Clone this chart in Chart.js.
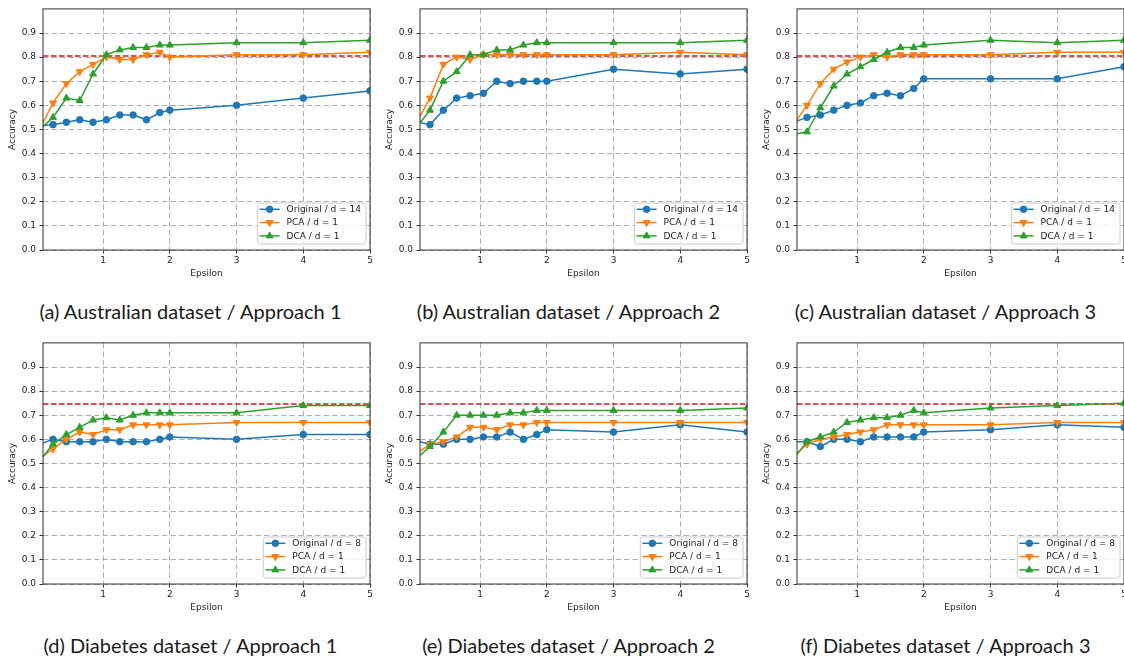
<!DOCTYPE html>
<html>
<head>
<meta charset="utf-8">
<script src="https://cdn.jsdelivr.net/npm/chart.js@4.4.1/dist/chart.umd.min.js"></script>
<style>
  html, body { margin: 0; padding: 0; background: #fff; overflow: hidden; width: 1124px; height: 662px; }
  .panel { position: absolute; width: 375px; height: 285px; }
  .caption { position: absolute; width: 375px; text-align: center; font-family: Lato, 'Noto Sans', sans-serif; font-size: 20px; line-height: 22px; color: #1a1a1a; white-space: nowrap; }
</style>
</head>
<body>
<div class="panel" style="left:0;top:0"><canvas id="chartA"></canvas></div>
<div class="panel" style="left:377px;top:0"><canvas id="chartB"></canvas></div>
<div class="panel" style="left:754px;top:0"><canvas id="chartC"></canvas></div>
<div class="panel" style="left:0;top:334px"><canvas id="chartD"></canvas></div>
<div class="panel" style="left:377px;top:334px"><canvas id="chartE"></canvas></div>
<div class="panel" style="left:754px;top:334px"><canvas id="chartF"></canvas></div>

<div class="caption" style="left:3px;top:300px">(a) Australian dataset / Approach 1</div>
<div class="caption" style="left:381px;top:300px">(b) Australian dataset / Approach 2</div>
<div class="caption" style="left:758px;top:300px">(c) Australian dataset / Approach 3</div>
<div class="caption" style="left:3px;top:634px">(d) Diabetes dataset / Approach 1</div>
<div class="caption" style="left:381px;top:634px">(e) Diabetes dataset / Approach 2</div>
<div class="caption" style="left:758px;top:634px">(f) Diabetes dataset / Approach 3</div>

<script>
// Epsilon values (first one sits just left of the visible x range)
const epsilon = [0.05, 0.25, 0.45, 0.65, 0.85, 1.05, 1.25, 1.45, 1.65, 1.85, 2, 3, 4, 5];
const xTicks = [1, 2, 3, 4, 5];
const yTicks = [0, 0.1, 0.2, 0.3, 0.4, 0.5, 0.6, 0.7, 0.8, 0.9];

// Australian dataset
const ausOriginal1 = [0.515, 0.52, 0.53, 0.54, 0.53, 0.54, 0.56, 0.56, 0.54, 0.57, 0.58, 0.60, 0.63, 0.66];
const ausPca1 = [0.50, 0.61, 0.69, 0.74, 0.77, 0.80, 0.79, 0.79, 0.81, 0.82, 0.80, 0.81, 0.81, 0.82];
const ausDca1 = [0.50, 0.55, 0.63, 0.62, 0.73, 0.81, 0.83, 0.84, 0.84, 0.85, 0.85, 0.86, 0.86, 0.87];

const ausOriginal2 = [0.53, 0.52, 0.58, 0.63, 0.64, 0.65, 0.70, 0.69, 0.70, 0.70, 0.70, 0.75, 0.73, 0.75];
const ausPca2 = [0.53, 0.63, 0.77, 0.80, 0.79, 0.81, 0.81, 0.81, 0.81, 0.81, 0.81, 0.81, 0.82, 0.81];
const ausDca2 = [0.51, 0.58, 0.70, 0.74, 0.81, 0.81, 0.83, 0.83, 0.85, 0.86, 0.86, 0.86, 0.86, 0.87];

const ausOriginal3 = [0.53, 0.55, 0.56, 0.58, 0.60, 0.61, 0.64, 0.65, 0.64, 0.67, 0.71, 0.71, 0.71, 0.76];
const ausPca3 = [0.52, 0.60, 0.69, 0.75, 0.78, 0.80, 0.81, 0.80, 0.81, 0.81, 0.81, 0.81, 0.82, 0.82];
const ausDca3 = [0.48, 0.49, 0.59, 0.68, 0.73, 0.76, 0.79, 0.82, 0.84, 0.84, 0.85, 0.87, 0.86, 0.87];

// Diabetes dataset
const diaOriginal1 = [0.58, 0.60, 0.59, 0.59, 0.59, 0.60, 0.59, 0.59, 0.59, 0.60, 0.61, 0.60, 0.62, 0.62];
const diaPca1 = [0.52, 0.56, 0.60, 0.63, 0.62, 0.64, 0.64, 0.66, 0.66, 0.66, 0.66, 0.67, 0.67, 0.67];
const diaDca1 = [0.51, 0.58, 0.62, 0.65, 0.68, 0.69, 0.68, 0.70, 0.71, 0.71, 0.71, 0.71, 0.74, 0.74];

const diaOriginal2 = [0.593, 0.58, 0.58, 0.60, 0.60, 0.61, 0.61, 0.63, 0.60, 0.62, 0.64, 0.63, 0.66, 0.63];
const diaPca2 = [0.54, 0.58, 0.59, 0.61, 0.65, 0.65, 0.64, 0.66, 0.66, 0.67, 0.67, 0.67, 0.67, 0.67];
const diaDca2 = [0.52, 0.57, 0.63, 0.70, 0.70, 0.70, 0.70, 0.71, 0.71, 0.72, 0.72, 0.72, 0.72, 0.73];

const diaOriginal3 = [0.59, 0.59, 0.57, 0.60, 0.60, 0.59, 0.61, 0.61, 0.61, 0.61, 0.63, 0.64, 0.66, 0.65];
const diaPca3 = [0.53, 0.58, 0.60, 0.61, 0.62, 0.63, 0.64, 0.66, 0.66, 0.66, 0.66, 0.66, 0.67, 0.67];
const diaDca3 = [0.52, 0.59, 0.61, 0.63, 0.67, 0.68, 0.69, 0.69, 0.70, 0.72, 0.71, 0.73, 0.74, 0.75];

// red dashed reference lines
const ausBaseline = 0.805;
const diaBaseline = 0.747;

const BLUE = '#1f77b4';
const ORANGE = '#ff7f0e';
const GREEN = '#2ca02c';
const FONT = { family: "'DejaVu Sans', sans-serif", size: 9 };

// frame (all four spines) + matplotlib style legend in the lower right
const framePlugin = {
  id: 'frameAndLegend',
  afterDatasetsDraw(chart) {
    const { ctx, chartArea: a } = chart;
    ctx.save();
    ctx.strokeStyle = '#333';
    ctx.lineWidth = 1;
    ctx.strokeRect(a.left, a.top, a.right - a.left, a.bottom - a.top);

    const items = chart.data.datasets.filter(d => d.label);
    ctx.font = '9px "DejaVu Sans", sans-serif';
    let textW = 0;
    items.forEach(d => { textW = Math.max(textW, ctx.measureText(d.label).width); });
    const w = 29 + textW + 5;
    const rowH = 13.3;
    const h = 41;
    const x0 = a.right - 4 - w;
    const y0 = a.bottom - 6 - h;
    ctx.beginPath();
    ctx.roundRect(x0, y0, w, h, 2.5);
    ctx.fillStyle = 'rgba(255,255,255,0.8)';
    ctx.fill();
    ctx.strokeStyle = '#cccccc';
    ctx.stroke();

    items.forEach((d, i) => {
      const cy = y0 + 6.3 + i * rowH;
      ctx.strokeStyle = d.borderColor;
      ctx.fillStyle = d.borderColor;
      ctx.lineWidth = 1.5;
      ctx.setLineDash([]);
      ctx.beginPath();
      ctx.moveTo(x0 + 2, cy);
      ctx.lineTo(x0 + 22, cy);
      ctx.stroke();
      ctx.lineWidth = 1;
      Chart.helpers.drawPoint(ctx, {
        pointStyle: d.pointStyle,
        rotation: d.pointRotation || 0,
        radius: d.pointRadius,
        borderWidth: 1
      }, x0 + 12, cy);
      ctx.fillStyle = '#222';
      ctx.textBaseline = 'middle';
      ctx.textAlign = 'left';
      ctx.fillText(d.label, x0 + 29, cy + 0.5);
    });
    ctx.restore();
  }
};

function series(label, values, color, style, rotation, radius, order) {
  return {
    label: label,
    data: epsilon.map((e, i) => ({ x: e, y: values[i] })),
    borderColor: color,
    backgroundColor: color,
    pointBackgroundColor: color,
    pointBorderColor: color,
    pointStyle: style,
    pointRotation: rotation,
    pointRadius: radius,
    pointBorderWidth: 1,
    borderWidth: 1.5,
    clip: 0,
    order: order
  };
}

function makeChart(id, original, pca, dca, baseline, dims) {
  const ctx = document.getElementById(id).getContext('2d');
  new Chart(ctx, {
    type: 'line',
    data: {
      datasets: [
        series('Original / d = ' + dims, original, BLUE, 'circle', 0, 3.3, 3),
        series('PCA / d = 1', pca, ORANGE, 'triangle', 180, 4, 2),
        series('DCA / d = 1', dca, GREEN, 'triangle', 0, 4, 1),
        {
          data: [{ x: 0.1, y: baseline }, { x: 5, y: baseline }],
          borderColor: 'rgba(214,39,40,0.8)',
          borderWidth: 2,
          borderDash: [5.5, 2.5],
          pointRadius: 0,
          clip: 0,
          order: 4
        }
      ]
    },
    options: {
      animation: false,
      responsive: true,
      maintainAspectRatio: false,
      events: [],
      layout: { padding: { top: 5, right: 4, left: 0, bottom: 0 } },
      plugins: {
        legend: { display: false },
        tooltip: { enabled: false }
      },
      scales: {
        x: {
          type: 'linear',
          min: 0.1,
          max: 5,
          afterBuildTicks: scale => { scale.ticks = xTicks.map(v => ({ value: v })); },
          afterFit: scale => { scale.height = 35; },
          ticks: { font: FONT, color: '#222', padding: 2, maxRotation: 0, callback: v => String(v) },
          grid: { color: '#b0b0b0', lineWidth: 1, tickLength: 3.5, tickColor: '#333', tickBorderDash: [] },
          border: { display: false, dash: [5.5, 3] },
          title: { display: true, text: 'Epsilon', font: FONT, color: '#222', padding: { top: 0, bottom: 6.3 } }
        },
        y: {
          min: 0,
          max: 1,
          afterBuildTicks: scale => { scale.ticks = yTicks.map(v => ({ value: v })); },
          afterFit: scale => { scale.width = 43; },
          ticks: { font: FONT, color: '#222', padding: 3.5, callback: v => v.toFixed(1) },
          grid: { color: '#b0b0b0', lineWidth: 1, tickLength: 3.5, tickColor: '#333', tickBorderDash: [] },
          border: { display: false, dash: [5.5, 3] },
          title: { display: true, text: 'Accuracy', font: FONT, color: '#222', padding: { top: 7.5, bottom: 0 } }
        }
      }
    },
    plugins: [framePlugin]
  });
}

makeChart('chartA', ausOriginal1, ausPca1, ausDca1, ausBaseline, 14);
makeChart('chartB', ausOriginal2, ausPca2, ausDca2, ausBaseline, 14);
makeChart('chartC', ausOriginal3, ausPca3, ausDca3, ausBaseline, 14);
makeChart('chartD', diaOriginal1, diaPca1, diaDca1, diaBaseline, 8);
makeChart('chartE', diaOriginal2, diaPca2, diaDca2, diaBaseline, 8);
makeChart('chartF', diaOriginal3, diaPca3, diaDca3, diaBaseline, 8);
</script>
</body>
</html>
